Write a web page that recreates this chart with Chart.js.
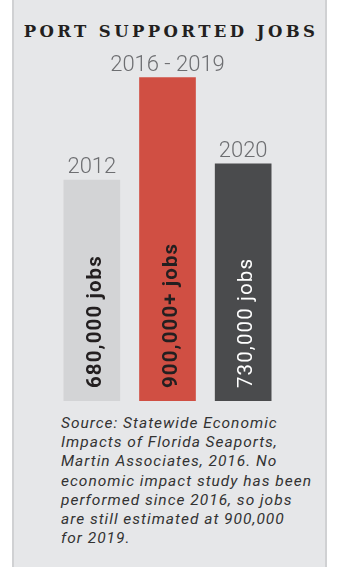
<!DOCTYPE html>
<html>
<head>
<meta charset="utf-8">
<script src="https://cdn.jsdelivr.net/npm/chart.js@4"></script>
<style>
  html, body { margin: 0; padding: 0; background: #fff; }
  body { width: 354px; height: 567px; position: relative; overflow: hidden; }
  #panel {
    position: absolute; left: 12px; top: -4px; width: 315px; height: 600px;
    background: #e6e7e9; border: 2px solid #d0d1d3; box-sizing: border-box;
  }
  #title {
    position: absolute; left: 12px; top: 23px; width: 315px; padding-left: 3px; box-sizing: border-box;
    text-align: center; font: bold 16.5px/17px 'DejaVu Serif', serif; letter-spacing: 3.4px; color: #231f20;
  }
  #chart { position: absolute; left: 0; top: 0; }
  #note {
    position: absolute; left: 61px; top: 414px;
    font: italic 15.5px/19.2px Roboto, sans-serif; letter-spacing: 1px; color: #333;
    white-space: nowrap;
  }
</style>
</head>
<body>
<div id="panel"></div>
<div id="title">PORT SUPPORTED JOBS</div>
<canvas id="chart" width="354" height="410" style="width:354px;height:410px"></canvas>
<div id="note">Source: Statewide Economic<br>Impacts of Florida Seaports,<br>Martin Associates, 2016. No<br>economic impact study has been<br>performed since 2016, so jobs<br>are still estimated at 900,000<br>for 2019.</div>
<script>
// values (the middle bar is drawn taller than 900k)
const periods = ['2012', '2016 - 2019', '2020'];
const jobs = [680000, 995000, 730000];
const jobLabels = ['680,000 jobs', '900,000+ jobs', '730,000 jobs'];

const COLORS = {
  bars:   ['#d3d4d6', '#d04f43', '#4a4b4d'],
  inText: ['#231f20', '#231f20', '#ffffff'],
  year:   '#6d6e71',
};

// year above each bar, job count rotated inside it
const barText = {
  id: 'barText',
  afterDatasetsDraw(chart) {
    const ctx = chart.ctx;
    chart.getDatasetMeta(0).data.forEach((bar, i) => {
      ctx.save();
      ctx.font = '300 22px Roboto';
      ctx.fillStyle = COLORS.year;
      ctx.textAlign = 'center';
      ctx.textBaseline = 'alphabetic';
      ctx.fillText(periods[i], bar.x, bar.y - 7);
      ctx.restore();

      ctx.save();
      ctx.translate(bar.x + 9, bar.base - 13);
      ctx.rotate(-Math.PI / 2);
      ctx.font = (i === 2 ? '400' : 'bold') + ' 20.5px Roboto';
      ctx.letterSpacing = '1.1px';
      ctx.fillStyle = COLORS.inText[i];
      ctx.textAlign = 'left';
      ctx.textBaseline = 'alphabetic';
      ctx.fillText(jobLabels[i], 0, 0);
      ctx.restore();
    });
  },
};

new Chart(document.getElementById('chart'), {
  type: 'bar',
  data: {
    labels: periods,
    datasets: [{ data: jobs, backgroundColor: COLORS.bars, barThickness: 56, borderWidth: 0 }],
  },
  options: {
    responsive: false,
    animation: false,
    devicePixelRatio: 1,
    layout: { padding: { left: 54, right: 73, top: 76, bottom: 9 } },
    plugins: { legend: { display: false }, tooltip: { enabled: false } },
    scales: {
      x: { display: false },
      y: { display: false, min: 0, max: 1000000 },
    },
  },
  plugins: [barText],
});
</script>
</body>
</html>
